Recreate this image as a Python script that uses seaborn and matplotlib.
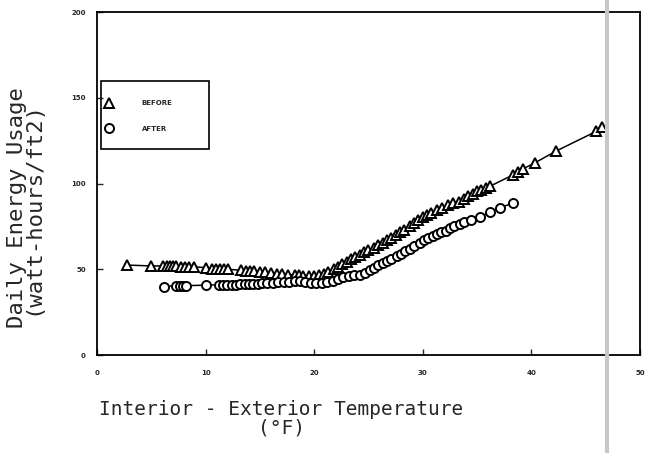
import numpy as np
import pandas as pd
import matplotlib
matplotlib.use('Agg')
import matplotlib.pyplot as plt
from matplotlib.lines import Line2D
from matplotlib.patches import Rectangle
import seaborn as sns

# BEFORE (triangles): temperature difference (F) vs daily energy usage
before_x = [2.8, 5.0, 6.1, 6.4, 6.7, 7.0, 7.3, 7.7, 8.1, 8.5, 8.9, 10.0, 10.6, 11.0, 11.3,
            11.7, 12.1, 13.3, 13.7, 14.1, 14.5, 15.0, 15.5, 16.0, 16.6, 17.0, 17.6, 18.2,
            18.6, 19.0, 19.5, 20.0, 20.4, 20.9, 21.3, 21.8, 22.2, 22.6, 23.0, 23.4, 23.8,
            24.2, 24.6, 25.0, 25.5, 25.9, 26.3, 26.7, 27.1, 27.5, 27.9, 28.3, 28.8, 29.2,
            29.6, 30.0, 30.4, 30.8, 31.3, 31.8, 32.3, 32.8, 33.3, 33.8, 34.2, 34.6, 35.0,
            35.4, 35.8, 36.2, 38.3, 38.8, 39.2, 40.3, 42.3, 46.0, 46.5]
before_y = [52.5, 52, 52, 52, 52, 52, 52, 51.5, 51.5, 51.5, 51.5, 51, 50.5, 50.5, 50.5,
            50.3, 50, 49.5, 49.2, 49, 48.8, 48.5, 48.3, 48, 47.5, 47.3, 47, 46.5,
            46.5, 46, 46, 46, 46.5, 47.5, 48.5, 50, 51.5, 53, 54.5, 56, 57,
            58.5, 60, 61, 62.5, 64, 65.5, 67, 68.5, 70, 71.5, 73, 75, 77,
            79, 80.5, 81.5, 83, 84.5, 86, 87.5, 88.5, 89.5, 91, 92.5, 94, 95.5,
            96.5, 97.5, 98.5, 105, 107, 108.5, 112, 119, 130.5, 133]

# AFTER (circles)
after_x = [6.2, 7.3, 7.6, 7.9, 8.2, 10.0, 11.2, 11.6, 12.0, 12.4, 12.8, 13.2, 13.6, 14.0,
           14.4, 14.8, 15.2, 15.7, 16.2, 16.7, 17.2, 17.7, 18.2, 18.7, 19.2, 19.7, 20.2,
           20.7, 21.2, 21.7, 22.2, 22.7, 23.2, 23.7, 24.2, 24.7, 25.1, 25.5, 25.9, 26.3,
           26.7, 27.1, 27.6, 28.0, 28.4, 28.8, 29.2, 29.7, 30.1, 30.5, 30.9, 31.3, 31.7,
           32.1, 32.5, 32.9, 33.4, 33.8, 34.4, 35.3, 36.2, 37.1, 38.3]
after_y = [40, 40.5, 40.5, 40.5, 40.5, 40.8, 41, 41, 41, 41, 41, 41.2, 41.3, 41.5,
           41.5, 41.7, 42, 42, 42.3, 42.5, 42.5, 42.7, 43, 43, 42.5, 42, 42,
           42, 42.5, 43.5, 44.5, 45.3, 46, 46.5, 47, 48, 49.5, 51, 52.5, 54,
           55, 56, 57.5, 59, 60.5, 62, 63.5, 65.5, 67, 68.5, 69.5, 70.5, 71.5,
           72.5, 74, 75, 76.5, 77.5, 79, 80.5, 83.5, 86, 88.5]

labels = ['BEFORE', 'AFTER']
xticks = [0, 10, 20, 30, 40, 50]
yticks = [0, 50, 100, 150, 200]

df_before = pd.DataFrame({'x': before_x, 'y': before_y})
df_after = pd.DataFrame({'x': after_x, 'y': after_y})

sns.set_style('ticks')
fig = plt.figure(figsize=(6.49, 4.53), dpi=100)
ax = fig.add_axes([0.1495, 0.216, 0.8365, 0.7575])

mk = dict(markersize=6.5, markerfacecolor='white', markeredgecolor='black', markeredgewidth=1.4)
sns.lineplot(data=df_before, x='x', y='y', ax=ax, sort=False, estimator=None,
             color='black', lw=1.1, marker='^', **mk)
sns.lineplot(data=df_after, x='x', y='y', ax=ax, sort=False, estimator=None,
             color='black', lw=1.1, marker='o', **mk)

ax.set_xlim(0, 50)
ax.set_ylim(0, 200)
ax.set_xticks(xticks)
ax.set_yticks(yticks)
ax.set_xticklabels([str(t) for t in xticks], fontsize=5, fontweight='bold')
ax.set_yticklabels([str(t) for t in yticks], fontsize=5, fontweight='bold')
ax.tick_params(direction='in', length=4, width=1, pad=8)
ax.tick_params(axis='x', pad=11)
for s in ax.spines.values():
    s.set_linewidth(1.3)
    s.set_color('black')

ax.set_xlabel('Interior - Exterior Temperature\n(°F)', family='DejaVu Sans Mono',
              fontsize=14, linespacing=0.95)
ax.xaxis.set_label_coords(0.339, -0.13)
ax.set_ylabel('Daily Energy Usage\n(watt-hours/ft2)', family='DejaVu Sans Mono',
              fontsize=16, linespacing=0.75)
ax.yaxis.set_label_coords(-0.1, 0.43)

# legend box
ax.add_patch(Rectangle((0.007, 0.601), 0.2, 0.198, transform=ax.transAxes,
                       fill=False, edgecolor='black', lw=1.2, zorder=5))
handles = [Line2D([], [], ls='none', marker='^', **mk),
           Line2D([], [], ls='none', marker='o', **mk)]
leg = ax.legend(handles, labels, loc='center left', bbox_to_anchor=(0.012, 0.697),
                frameon=False, prop={'size': 5, 'weight': 'bold'}, handletextpad=4.0,
                labelspacing=2.8, borderpad=0, borderaxespad=0, handlelength=1.5)

# faint scan line
fig.add_artist(Line2D([0.935, 0.935], [0, 1], color='#c8c8c8', lw=3))

fig.savefig('out.png', dpi=100)
